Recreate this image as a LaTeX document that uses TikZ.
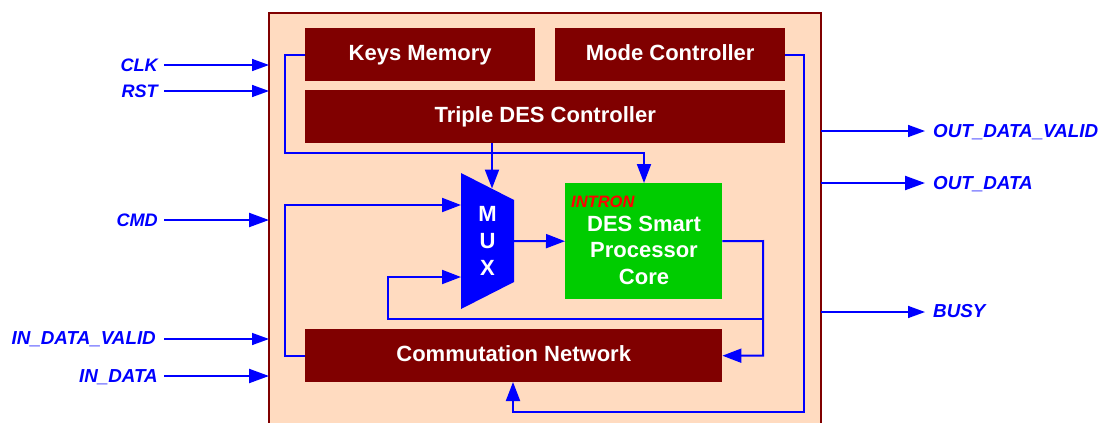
\documentclass[tikz,border=0pt]{standalone}
\usepackage{fontspec}
\setmainfont{Liberation Sans}
\usetikzlibrary{arrows.meta}
\definecolor{brick}{RGB}{128,0,0}
\definecolor{peach}{RGB}{255,219,192}
\definecolor{corefill}{RGB}{0,204,0}
\tikzset{
  block/.style={fill=brick,draw=none,text=white,font=\fontsize{22}{26}\selectfont\bfseries,inner sep=0pt,anchor=north west,align=center,text height=16pt,text depth=4pt},
  wire/.style={draw=blue,line width=2pt,-{Triangle[length=19pt,width=14pt]}},
  pin/.style={draw=blue,line width=2.2pt,-{Triangle[length=20pt,width=14pt]}},
  thinpin/.style={draw=blue,line width=1.5pt,-{Triangle[length=17pt,width=12pt]}},
  sig/.style={text=blue,font=\fontsize{18.8}{22}\selectfont\bfseries\itshape,inner sep=0pt,text height=13.5pt,text depth=0pt},
  sigl/.style={sig,anchor=east},
  sigs/.style={sigl,font=\fontsize{18.1}{22}\selectfont\bfseries\itshape},
  sigr/.style={sig,anchor=west}
}
\begin{document}
\begin{tikzpicture}[x=1pt,y=-1pt]
\useasboundingbox (0,0) rectangle (1098,423);
\clip (0,0) rectangle (1098,423);
% outer frame
\fill[peach] (269,13) rectangle (821,430);
\draw[brick,line width=2pt] (269,430) -- (269,13) -- (821,13) -- (821,430);
% blocks
\node[block,minimum width=230pt,minimum height=53pt] (keys) at (305,28) {Keys Memory};
\node[block,minimum width=230pt,minimum height=53pt] (mode) at (555,28) {Mode Controller};
\node[block,minimum width=480pt,minimum height=53pt] (triple) at (305,90) {Triple DES Controller};
\node[block,minimum width=417pt,minimum height=53pt] (comm) at (305,329) {Commutation Network};
\node[block,fill=corefill,minimum width=157pt,minimum height=116pt] (core) at (565,183) {};
\node[text=white,font=\fontsize{22}{26.5}\selectfont\bfseries,align=center,inner sep=0pt] (coretext) at (644,250) {DES Smart\\Processor\\Core};
\node[text=red,font=\fontsize{16.5}{18}\selectfont\bfseries\itshape,anchor=west,inner sep=0pt] (intron) at (571,201.5) {INTRON};
% MUX
\fill[blue] (461,173) -- (514,200) -- (514,282) -- (461,309) -- cycle;
\node[minimum width=53pt,minimum height=136pt,inner sep=0pt,text=white,font=\fontsize{22}{27}\selectfont\bfseries,align=center] (mux) at (487.5,241) {M\\U\\X};
% internal route corners
\coordinate (muxtop) at (492,188.5);
\coordinate (muxa) at (461,205);
\coordinate (muxb) at (461,277);
\coordinate (corein) at (644,183);
\coordinate (commin) at (513,382);
\coordinate (bus) at (763,241);
\coordinate (tap) at (763,319);
\coordinate (keyleft) at (285,153);
\coordinate (commleft) at (285,205);
\coordinate (tapleft) at (388,277);
\coordinate (modedown) at (804,412);
% connectors
\draw[wire] (keys.west) -| (keyleft) -| (corein);
\draw[wire] (triple.south -| muxtop) -- (muxtop);
\draw[wire] (comm.west) -| (commleft) -- (muxa);
\draw[wire] (mux.east) -- (core.west);
\draw[wire] (core.east) -- (bus) |- (comm.east);
\draw[wire] (tap) -| (tapleft) -- (muxb);
\draw[wire] (mode.east) -| (modedown) -| (commin);
% left pins
\node[sigs] (clk) at (158,64.7) {CLK};
\node[sigs] (rst) at (158,90.7) {RST};
\node[sigs] (cmd) at (158,219.7) {CMD};
\node[sigl] (idv) at (156,337.5) {IN\_DATA\_VALID};
\node[sigl] (idata) at (158,375.5) {IN\_DATA};
\coordinate (clkstart) at (164,65);
\coordinate (rststart) at (164,91);
\coordinate (cmdstart) at (164,220);
\coordinate (idvstart) at (164,339);
\coordinate (idatastart) at (164,376);
\coordinate (clkin) at (269,65);
\coordinate (rstin) at (269,91);
\coordinate (cmdin) at (269,220);
\coordinate (idvin) at (269,339);
\coordinate (idatain) at (269,376);
\draw[thinpin] (clkstart) -- (clkin);
\draw[thinpin] (rststart) -- (rstin);
\draw[pin] (cmdstart) -- (cmdin);
\draw[thinpin] (idvstart) -- (idvin);
\draw[pin] (idatastart) -- (idatain);
% right pins
\node[sigr] (odv) at (933,130.7) {OUT\_DATA\_VALID};
\node[sigr] (od) at (933,182.7) {OUT\_DATA};
\node[sigr] (busy) at (933,310.7) {BUSY};
\coordinate (odvout) at (821,131);
\coordinate (odout) at (821,183);
\coordinate (busyout) at (821,312);
\coordinate (odvend) at (925,131);
\coordinate (odend) at (925,183);
\coordinate (busyend) at (925,312);
\draw[thinpin] (odvout) -- (odvend);
\draw[pin] (odout) -- (odend);
\draw[thinpin] (busyout) -- (busyend);
\end{tikzpicture}
\end{document}
